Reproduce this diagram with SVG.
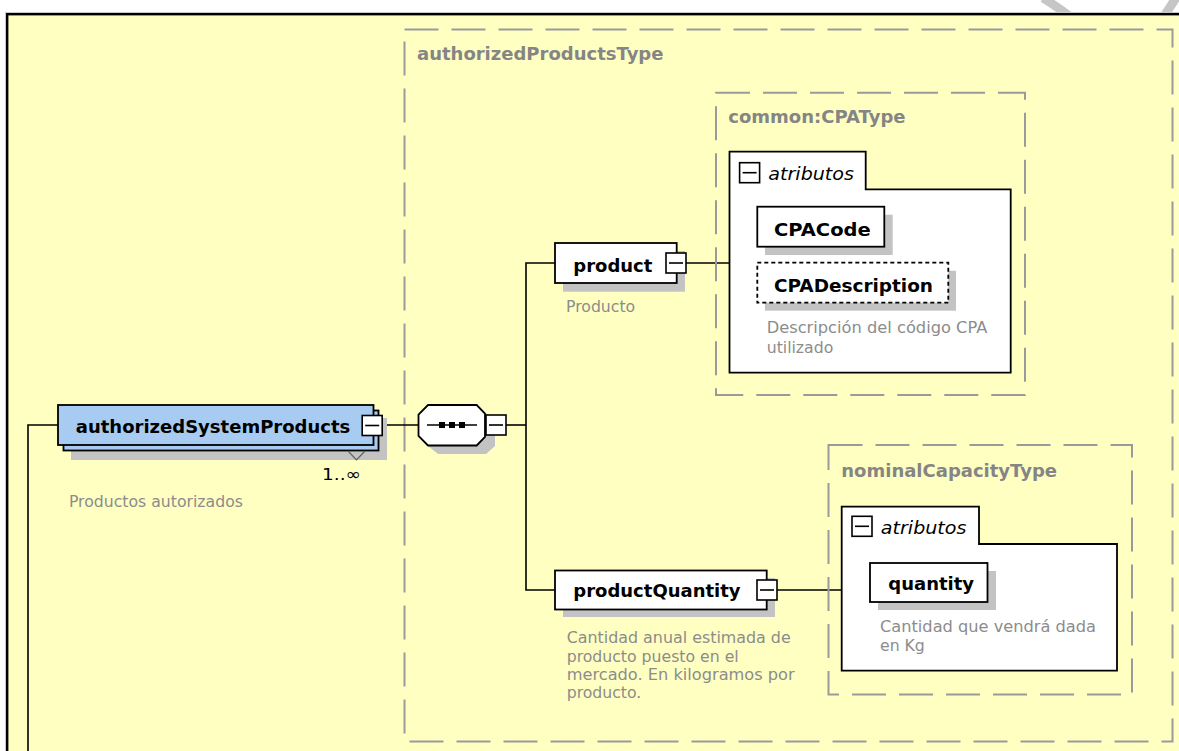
<svg xmlns="http://www.w3.org/2000/svg" width="1179" height="751" viewBox="0 0 1179 751">
<style>
.lb{font-family:"DejaVu Sans",Verdana,sans-serif;font-weight:bold;font-size:18px;fill:#000}
.tt{font-family:"DejaVu Sans",Verdana,sans-serif;font-weight:bold;font-size:18px;fill:#858585}
.ds{font-family:"DejaVu Sans",Verdana,sans-serif;font-size:15.7px;fill:#8c8c8c}
.it{font-family:"DejaVu Sans",Verdana,sans-serif;font-style:italic;font-size:18.5px;fill:#000}
.bx{fill:#fff;stroke:#000;stroke-width:1.8}
.bl{fill:#a8cbf1;stroke:#000;stroke-width:1.8}
.sh{fill:#c3c3c3}
.dh{fill:none;stroke:#9a9a9a;stroke-width:2;stroke-dasharray:34 13}
.ln{fill:none;stroke:#000;stroke-width:1.6}
.bt{fill:#fff;stroke:#000;stroke-width:1.6}
.wm{fill:none;stroke:#c6c6c6;stroke-width:9}
</style>
<defs>
<g id="btn"><rect class="bt" x="-10" y="-10" width="20" height="20"/><line x1="-7" y1="0" x2="7" y2="0" stroke="#000" stroke-width="1.6"/></g>
</defs>
<rect x="0" y="0" width="1179" height="751" fill="#fff"/>
<path class="wm" d="M1043,-2 Q1056,6 1072,18"/>
<path class="wm" d="M1176,-2 Q1170,7 1163,18"/>
<rect x="5.5" y="12.5" width="1200" height="800" fill="none" stroke="#c8c8c8" stroke-width="1"/>
<rect x="7.2" y="14.2" width="1200" height="800" fill="#ffffc2" stroke="#000" stroke-width="2.4"/>

<g id="authorizedProductsType">
<rect class="dh" x="404.5" y="29.5" width="768" height="712"/>
<text class="tt" x="417" y="60">authorizedProductsType</text>
</g>

<g id="connectors">
<polyline class="ln" points="28,751 28,425 58,425"/>
<line class="ln" x1="382" y1="425" x2="418.5" y2="425"/>
<line class="ln" x1="506" y1="425" x2="526" y2="425"/>
<polyline class="ln" points="555,263 526,263 526,590 555,590"/>
<line class="ln" x1="686" y1="263" x2="729.5" y2="263"/>
<line class="ln" x1="777" y1="590" x2="841.5" y2="590"/>
</g>

<g id="authorizedSystemProducts">
<rect class="sh" x="71" y="418" width="316" height="42"/>
<rect class="bl" x="63.5" y="410.5" width="315" height="40"/>
<rect class="bl" x="58" y="405" width="315.5" height="40"/>
<polyline points="348,451 356.5,460 365,451" fill="none" stroke="#606060" stroke-width="1.2"/>
<text class="lb" x="75.8" y="433.3">authorizedSystemProducts</text>
<use href="#btn" x="372.2" y="425.5"/>
<text x="322" y="479.5" font-family="DejaVu Sans,Verdana,sans-serif" font-size="16.5" fill="#000" textLength="39" lengthAdjust="spacingAndGlyphs">1..∞</text>
<text class="ds" x="68.9" y="506.7">Productos autorizados</text>
</g>

<g id="sequence">
<polygon class="sh" points="438,413 486,413 495,421 495,446 486,454 438,454 428,446 428,421"/>
<polygon points="428,405 476.7,405 485,413.5 485,437 476.7,445.5 428,445.5 418.5,436 418.5,414.5" fill="#fff" stroke="#000" stroke-width="1.8"/>
<line x1="427" y1="425" x2="477" y2="425" stroke="#000" stroke-width="1.6"/>
<rect x="439" y="422" width="6" height="6" fill="#000"/>
<rect x="449" y="422" width="6" height="6" fill="#000"/>
<rect x="459" y="422" width="6" height="6" fill="#000"/>
<use href="#btn" x="496" y="425"/>
</g>

<g id="product">
<rect class="sh" x="563" y="251" width="122" height="40.7"/>
<rect class="bx" x="555" y="243" width="121.7" height="40"/>
<text class="lb" x="573.3" y="271.7">product</text>
<use href="#btn" x="676" y="263"/>
<text class="ds" x="566" y="311.7">Producto</text>
</g>

<g id="productQuantity">
<rect class="sh" x="563" y="578" width="212" height="39"/>
<rect class="bx" x="555" y="570.5" width="211.7" height="39"/>
<text class="lb" x="573.3" y="597.3">productQuantity</text>
<use href="#btn" x="767" y="590"/>
<text class="ds" x="566.7" y="643.3" textLength="224" lengthAdjust="spacingAndGlyphs">Cantidad anual estimada de</text>
<text class="ds" x="566.7" y="661.6">producto puesto en el</text>
<text class="ds" x="566.7" y="679.9" textLength="228" lengthAdjust="spacingAndGlyphs">mercado. En kilogramos por</text>
<text class="ds" x="566.7" y="698.2">producto.</text>
</g>

<g id="commonCPAType">
<rect class="dh" x="716" y="92.7" width="309" height="302.3"/>
<text class="tt" x="728.3" y="123.3">common:CPAType</text>
<path class="bx" d="M729.5,151.7 H865.7 V189.3 H1010.7 V372.7 H729.5 Z"/>
<use href="#btn" x="749.6" y="172.7"/>
<text class="it" x="768.3" y="180" textLength="85.7" lengthAdjust="spacingAndGlyphs">atributos</text>
</g>

<g id="CPACode">
<rect class="sh" x="765" y="214.7" width="127.7" height="40.3"/>
<rect class="bx" x="757.3" y="206.7" width="127" height="40"/>
<text class="lb" x="774" y="236" textLength="96.7" lengthAdjust="spacingAndGlyphs">CPACode</text>
</g>

<g id="CPADescription">
<rect class="sh" x="765" y="270.7" width="191" height="40"/>
<rect x="757.3" y="262.7" width="191" height="40" fill="#fff" stroke="#000" stroke-width="1.8" stroke-dasharray="4 3"/>
<text class="lb" x="774" y="291.7" textLength="159" lengthAdjust="spacingAndGlyphs">CPADescription</text>
<text class="ds" x="766.7" y="333.3" textLength="220.6" lengthAdjust="spacingAndGlyphs">Descripción del código CPA</text>
<text class="ds" x="766.7" y="353.3">utilizado</text>
</g>

<g id="nominalCapacityType">
<rect class="dh" x="828.5" y="445" width="303.5" height="249.5"/>
<text class="tt" x="841.3" y="476.7">nominalCapacityType</text>
<path class="bx" d="M841.7,506.7 H979 V544 H1117 V670.7 H841.7 Z"/>
<use href="#btn" x="862" y="526.3"/>
<text class="it" x="880.8" y="534" textLength="85.7" lengthAdjust="spacingAndGlyphs">atributos</text>
</g>

<g id="quantity">
<rect class="sh" x="878" y="571" width="118" height="39"/>
<rect class="bx" x="870" y="563" width="117.5" height="39"/>
<text class="lb" x="888.3" y="590">quantity</text>
<text class="ds" x="880" y="631.7" textLength="216" lengthAdjust="spacingAndGlyphs">Cantidad que vendrá dada</text>
<text class="ds" x="880" y="651">en Kg</text>
</g>
</svg>
